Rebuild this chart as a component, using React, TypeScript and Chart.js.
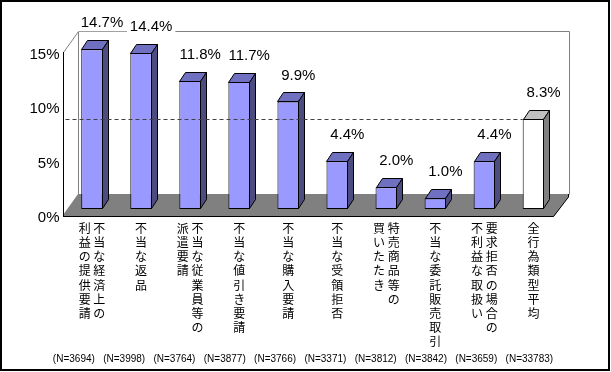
import React, { useEffect, useRef } from 'react';
import { Chart, registerables } from 'chart.js';

Chart.register(...registerables);

// Category labels, written as vertical columns (first column is read first, drawn on the right)
const categoryColumns: string[][] = [
  ['不当な経済上の', '利益の提供要請'],
  ['不当な返品'],
  ['不当な従業員等の', '派遣要請'],
  ['不当な値引き要請'],
  ['不当な購入要請'],
  ['不当な受領拒否'],
  ['特売商品等の', '買いたたき'],
  ['不当な委託販売取引'],
  ['要求拒否の場合の', '不利益な取扱い'],
  ['全行為類型平均'],
];

const values: number[] = [14.7, 14.4, 11.8, 11.7, 9.9, 4.4, 2.0, 1.0, 4.4, 8.3];
const sampleSizes: number[] = [3694, 3998, 3764, 3877, 3766, 3371, 3812, 3842, 3659, 33783];
const averageLine = 8.3;
const yTicks: number[] = [0, 5, 10, 15];

const NARROW = '"Liberation Sans Narrow", "Liberation Sans", Arial, sans-serif';
const JP = '"Noto Sans CJK JP", sans-serif';

function toVerticalLines(cols: string[]): string[] {
  const chars = cols.map((c) => Array.from(c));
  const rows = Math.max(...chars.map((c) => c.length));
  const lines: string[] = [];
  for (let r = 0; r < rows; r++) {
    const cells: string[] = [];
    for (let c = chars.length - 1; c >= 0; c--) {
      cells.push(chars[c][r] ?? '\u3000');
    }
    lines.push(cells.join(' '));
  }
  return lines;
}

const BAR_DX = 6;
const BAR_DY = -9;

const threeD = {
  id: 'threeD',
  beforeDatasetsDraw(chart: any) {
    const { ctx, chartArea: ca, scales } = chart;
    const y = scales.y;
    const topY = y.getPixelForValue(15);
    const fL = { x: ca.left - 4.5, y: ca.bottom + 6 };
    const fR = { x: ca.right - 4.5, y: ca.bottom + 6 };
    const bL = { x: ca.left + 10.5, y: ca.bottom - 15 };
    const bR = { x: ca.right + 10.5, y: ca.bottom - 15 };
    const wallTop = topY - 15;
    ctx.save();
    // back wall
    ctx.fillStyle = '#ffffff';
    ctx.fillRect(bL.x, wallTop, bR.x - bL.x, bL.y - wallTop);
    ctx.strokeStyle = '#808080';
    ctx.lineWidth = 1;
    ctx.beginPath();
    ctx.moveTo(Math.round(bL.x) + 0.5, Math.round(bL.y) + 0.5);
    ctx.lineTo(Math.round(bL.x) + 0.5, Math.round(wallTop) + 0.5);
    ctx.lineTo(Math.round(bR.x) + 0.5, Math.round(wallTop) + 0.5);
    ctx.lineTo(Math.round(bR.x) + 0.5, Math.round(bR.y) + 0.5);
    ctx.stroke();
    // left wall top diagonal
    ctx.beginPath();
    ctx.moveTo(Math.round(fL.x) + 0.5, Math.round(topY + 6) + 0.5);
    ctx.lineTo(Math.round(bL.x) + 0.5, Math.round(wallTop) + 0.5);
    ctx.stroke();
    // floor
    ctx.fillStyle = '#808080';
    ctx.strokeStyle = '#000000';
    ctx.beginPath();
    ctx.moveTo(bL.x, bL.y);
    ctx.lineTo(bR.x, bR.y);
    ctx.lineTo(bR.x, bR.y + 3);
    ctx.lineTo(fR.x, fR.y + 2);
    ctx.lineTo(fL.x, fL.y + 2);
    ctx.lineTo(fL.x, fL.y);
    ctx.closePath();
    ctx.fill();
    ctx.beginPath();
    ctx.moveTo(fL.x, fL.y + 1.5);
    ctx.lineTo(fR.x, fR.y + 1.5);
    ctx.lineTo(bR.x, bR.y + 3);
    ctx.lineTo(bR.x, bR.y);
    ctx.stroke();
    // front-left vertical edge (axis)
    ctx.strokeStyle = '#000000';
    ctx.beginPath();
    ctx.moveTo(Math.round(fL.x) + 0.5, Math.round(topY + 6));
    ctx.lineTo(Math.round(fL.x) + 0.5, fL.y + 2);
    ctx.stroke();
    ctx.restore();
  },
  afterDatasetsDraw(chart: any) {
    const { ctx, chartArea: ca, scales } = chart;
    const meta = chart.getDatasetMeta(0);
    const last = values.length - 1;
    ctx.save();
    ctx.lineWidth = 1;
    ctx.strokeStyle = '#000000';
    meta.data.forEach((el: any, i: number) => {
      const p = el.getProps(['x', 'y', 'base', 'width'], true);
      const l = Math.round(p.x - p.width / 2) + 0.5;
      const r = Math.round(p.x + p.width / 2) - 0.5;
      const t = Math.round(p.y) + 0.5;
      const b = Math.round(p.base) - 0.5;
      const isAvg = i === last;
      // top face
      ctx.fillStyle = isAvg ? '#C0C0C0' : '#7070C0';
      ctx.beginPath();
      ctx.moveTo(l, t);
      ctx.lineTo(l + BAR_DX, t + BAR_DY);
      ctx.lineTo(r + BAR_DX, t + BAR_DY);
      ctx.lineTo(r, t);
      ctx.closePath();
      ctx.fill();
      ctx.stroke();
      // side face
      ctx.fillStyle = isAvg ? '#808080' : '#4C4C80';
      ctx.beginPath();
      ctx.moveTo(r, t);
      ctx.lineTo(r + BAR_DX, t + BAR_DY);
      ctx.lineTo(r + BAR_DX, b + BAR_DY);
      ctx.lineTo(r, b);
      ctx.closePath();
      ctx.fill();
      ctx.stroke();
    });
    // average dashed line
    const avgEl = meta.data[last].getProps(['x', 'width'], true);
    const ly = Math.round(scales.y.getPixelForValue(averageLine)) + 0.5;
    ctx.strokeStyle = '#404040';
    ctx.setLineDash([4, 3]);
    ctx.beginPath();
    ctx.moveTo(ca.left - 2, ly);
    ctx.lineTo(avgEl.x - avgEl.width / 2, ly);
    ctx.stroke();
    ctx.setLineDash([]);
    // value labels
    ctx.font = '15px ' + NARROW;
    ctx.textAlign = 'center';
    ctx.textBaseline = 'middle';
    meta.data.forEach((el: any, i: number) => {
      const p = el.getProps(['x', 'y'], true);
      const txt = values[i].toFixed(1) + '%';
      const cx = p.x + 10;
      const cy = p.y - 26;
      const w = ctx.measureText(txt).width;
      ctx.fillStyle = '#ffffff';
      ctx.fillRect(cx - w / 2 - 3, cy - 8, w + 6, 16);
      ctx.fillStyle = '#000000';
      ctx.fillText(txt, cx, cy);
    });
    ctx.restore();
  },
  afterDraw(chart: any) {
    const { ctx } = chart;
    const nText = sampleSizes.map((n) => `(N=${n})`).join('   ');
    ctx.save();
    ctx.font = '10px "Liberation Sans", Arial, sans-serif';
    ctx.fillStyle = '#000000';
    ctx.textAlign = 'center';
    ctx.textBaseline = 'middle';
    ctx.fillText(nText, 303, 359);
    ctx.restore();
  },
};

export default function App() {
  const ref = useRef<HTMLCanvasElement | null>(null);
  useEffect(() => {
    if (!ref.current) return;
    const labels = categoryColumns.map(toVerticalLines);
    const chart = new Chart(ref.current, {
      type: 'bar',
      data: {
        labels,
        datasets: [
          {
            data: values,
            backgroundColor: values.map((_, i) => (i === values.length - 1 ? '#FFFFFF' : '#9999FF')),
            borderColor: '#000000',
            borderWidth: 1,
            borderSkipped: false,
            barPercentage: 0.44,
            categoryPercentage: 1,
          } as any,
        ],
      },
      options: {
        responsive: false,
        animation: false,
        events: [],
        layout: { padding: { left: 7, right: 53, top: 46, bottom: 22 } },
        plugins: {
          legend: { display: false },
          tooltip: { enabled: false },
          title: { display: false },
        },
        scales: {
          x: {
            grid: { display: false, drawTicks: false },
            border: { display: false },
            ticks: {
              autoSkip: false,
              maxRotation: 0,
              minRotation: 0,
              padding: 12,
              color: '#000000',
              font: { family: JP, size: 12, lineHeight: 1.185 },
            },
            afterFit: (s: any) => {
              s.height = 141;
            },
          },
          y: {
            min: 0,
            max: 15,
            afterBuildTicks: (s: any) => {
              s.ticks = yTicks.map((v) => ({ value: v }));
            },
            grid: { display: false, drawTicks: false },
            border: { display: false },
            ticks: {
              callback: (v: any) => v + '%',
              labelOffset: 9,
              padding: 8,
              color: '#000000',
              font: { family: NARROW, size: 15 },
            },
            afterFit: (s: any) => {
              s.width = 60.5;
            },
          },
        },
      } as any,
      plugins: [threeD],
    });
    return () => chart.destroy();
  }, []);
  return (
    <div style={{ position: 'fixed', left: 0, top: 0, width: 611, height: 372, background: '#ffffff' }}>
      <canvas ref={ref} width={611} height={372} style={{ display: 'block', position: 'absolute', left: 0, top: 0 }} />
      <div
        style={{
          position: 'absolute',
          left: 0,
          top: 0,
          width: 610,
          height: 371,
          border: '2px solid #000',
          boxSizing: 'border-box',
          pointerEvents: 'none',
        }}
      />
    </div>
  );
}
